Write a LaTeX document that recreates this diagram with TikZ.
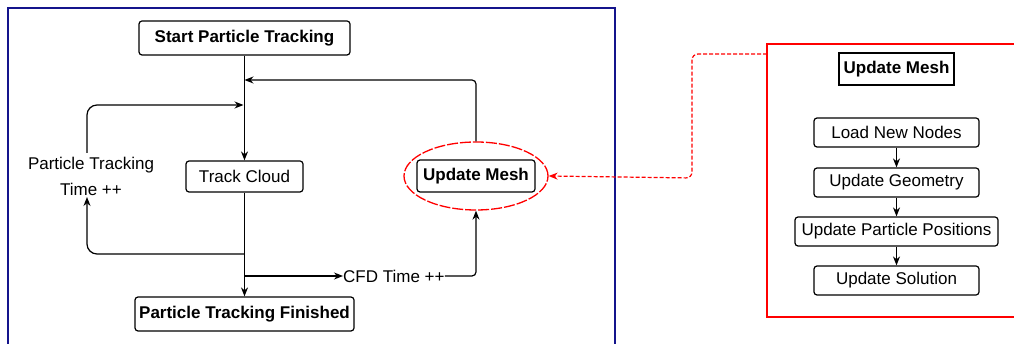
\documentclass[tikz,border=0pt]{standalone}
\usepackage{fontspec}
\setmainfont{Liberation Sans}
\usetikzlibrary{arrows.meta,shapes.geometric}
\definecolor{navyframe}{RGB}{20,20,140}
\begin{document}
\begin{tikzpicture}[x=1pt,y=-1pt,
  every node/.style={font=\fontsize{17}{19}\selectfont, inner sep=0pt},
  rbox/.style={draw, line width=1.2pt, rounded corners=3pt, minimum height=30pt, anchor=center},
  bbox/.style={rbox, font=\fontsize{17}{19}\selectfont\bfseries},
  conn/.style={line width=1.2pt, -{Stealth[length=9pt,width=7pt]}},
  reddash/.style={draw=red, line width=1.2pt, dash pattern=on 4pt off 2pt}
]
\useasboundingbox (0,0) rectangle (1014,344);
% frames
\draw[navyframe, line width=2pt] (8,352) -- (8,8) -- (615,8) -- (615,352);
\draw[red, line width=2.4pt] (1020,44) -- (767,44) -- (767,317) -- (1020,317);

% left diagram nodes
\node[bbox, minimum width=211pt, minimum height=34pt] (start) at (244.5,38) {Start Particle Tracking};
\node[rbox, minimum width=117pt, minimum height=31pt] (track) at (244.5,176.5) {Track Cloud};
\node[bbox, minimum width=219pt, minimum height=34pt] (fin) at (244.5,314) {Particle Tracking Finished};
\node[rbox, font=\fontsize{17}{19}\selectfont\bfseries, minimum width=118pt, minimum height=32pt] (um) at (476,176) {Update Mesh};
\node[draw=red, line width=1.3pt, dash pattern=on 11pt off 2pt, ellipse, minimum width=144pt, minimum height=68pt] (ell) at (476,176) {};
\node[align=center, font=\fontsize{17}{26}\selectfont] (ptt) at (91,176) {Particle Tracking\\Time ++};
\node[anchor=west] (cfd) at (343,276) {CFD Time ++};

% coordinates
\coordinate (j1) at (244.5,80);
\coordinate (j2) at (244.5,105);
\coordinate (j3) at (244.5,254);
\coordinate (j4) at (244.5,276);

% main flow
\draw[conn] (start.south) -- (track.north);
\draw[conn] (track.south) -- (fin.north);
% update mesh loop back
\draw[conn, rounded corners=4pt] (ell.north) -- (476,80) -- (j1);
% particle tracking time loop
\draw[conn, rounded corners=10pt] (j3) -- (87,254) -- (87,197);
\draw[conn, rounded corners=10pt] (87,153) -- (87,105) -- ([xshift=-1pt]j2);
% CFD
\draw[conn] (j4) -- (cfd.west);
\draw[conn, rounded corners=4pt] (cfd.east) -- (476,276) -- (ell.south);

% right box contents
\node[draw, line width=1.4pt, font=\fontsize{17}{19}\selectfont\bfseries, minimum width=115pt, minimum height=32pt] (umt) at (896.5,69) {Update Mesh};
\node[rbox, minimum width=165pt, minimum height=29pt] (l1) at (896.5,132.5) {Load New Nodes};
\node[rbox, minimum width=165pt, minimum height=29pt] (l2) at (896.5,182.5) {Update Geometry};
\node[rbox, minimum width=203pt, minimum height=29pt] (l3) at (896.5,231.5) {Update Particle Positions};
\node[rbox, minimum width=165pt, minimum height=29pt] (l4) at (896.5,280.5) {Update Solution};
\draw[conn] (l1) -- (l2);
\draw[conn] (l2) -- (l3);
\draw[conn] (l3) -- (l4);

% red dashed connector
\coordinate (rb) at (767,54);
\draw[reddash, -{Stealth[length=9pt,width=7pt]}, rounded corners=6pt] (rb) -- (692,54) -- (692,178) -- (ell.east);
\end{tikzpicture}
\end{document}
